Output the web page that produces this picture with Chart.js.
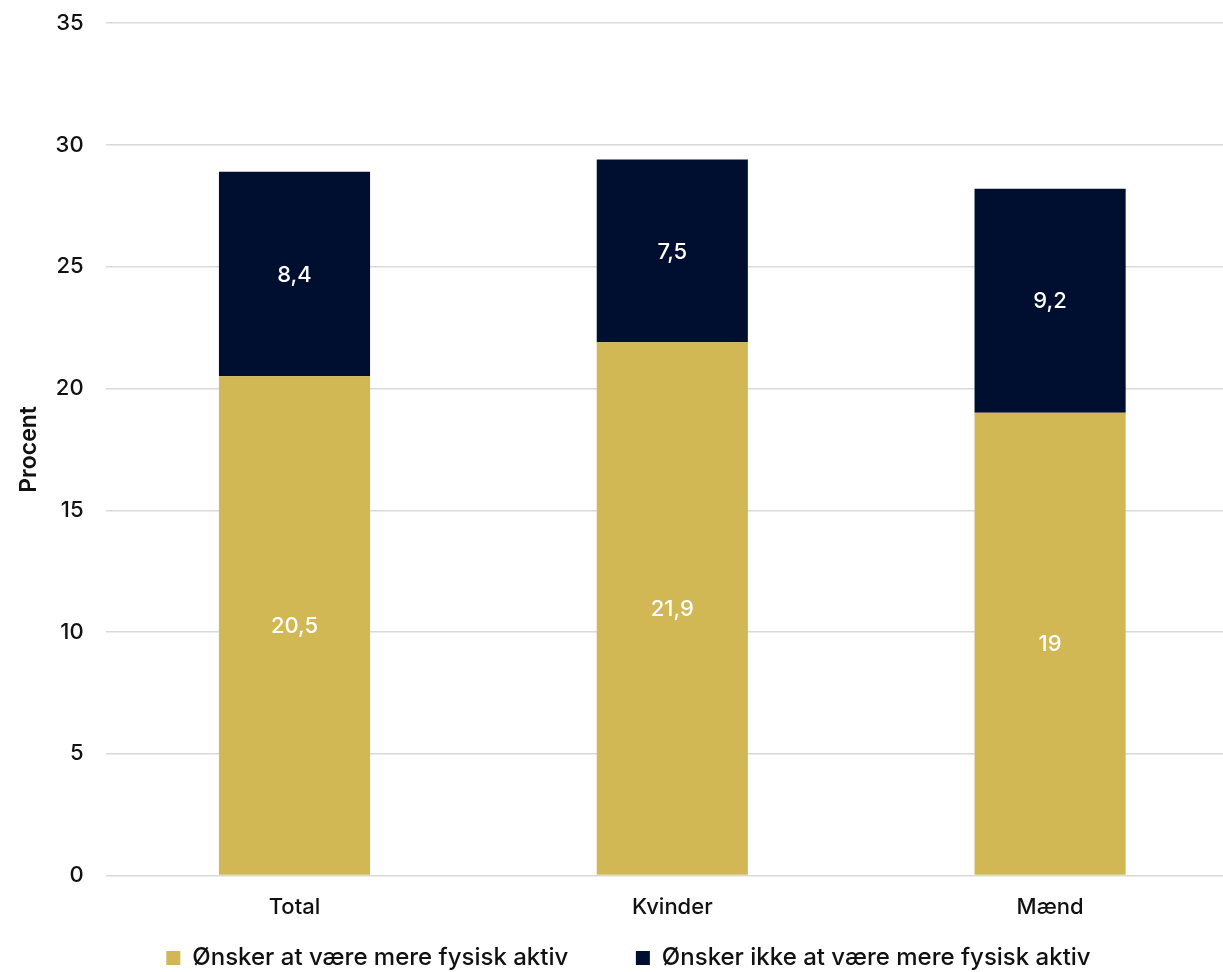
<!DOCTYPE html>
<html>
<head>
<meta charset="utf-8">
<script src="https://cdn.jsdelivr.net/npm/chart.js@4.4.1/dist/chart.umd.min.js"></script>
<style>
  html, body { margin: 0; padding: 0; background: #fff; overflow: hidden; }
  #view { position: relative; width: 1223px; height: 972px; overflow: hidden; }
  #wrap { position: absolute; left: 0; top: -12px; width: 1239px; height: 992px; }
</style>
</head>
<body>
<div id="view"><div id="wrap"><canvas id="c"></canvas></div></div>
<script>
const categories = ["Total", "Kvinder", "Mænd"];
const seriesNames = ["Ønsker at være mere fysisk aktiv", "Ønsker ikke at være mere fysisk aktiv"];
const wantMore = [20.5, 21.9, 19];
const notWantMore = [8.4, 7.5, 9.2];
const yTicks = [0, 5, 10, 15, 20, 25, 30, 35];

const GOLD = "#D2B755";
const NAVY = "#000F2F";
const FONT = "Inter";
const FS = 22;

const fmt = v => String(v).replace(".", ",");

const barLabels = {
  id: "barLabels",
  afterDatasetsDraw(chart) {
    const ctx = chart.ctx;
    ctx.save();
    ctx.fillStyle = "#ffffff";
    ctx.font = "500 " + FS + "px " + FONT;
    ctx.textAlign = "center";
    ctx.textBaseline = "middle";
    chart.data.datasets.forEach((ds, di) => {
      const meta = chart.getDatasetMeta(di);
      meta.data.forEach((bar, i) => {
        const p = bar.getProps(["x", "y", "base"], true);
        ctx.fillText(fmt(ds.data[i]), p.x, (p.y + p.base) / 2 + 1);
      });
    });
    ctx.restore();
  }
};

const legendNudge = {
  id: "legendNudge",
  afterLayout(chart) {
    if (chart.legend) { chart.legend.left += 9; chart.legend.right += 9; }
  }
};

new Chart(document.getElementById("c"), {
  type: "bar",
  data: {
    labels: categories,
    datasets: [
      { label: seriesNames[0], data: wantMore, backgroundColor: GOLD },
      { label: seriesNames[1], data: notWantMore, backgroundColor: NAVY }
    ]
  },
  options: {
    responsive: true,
    maintainAspectRatio: false,
    animation: false,
    layout: { padding: { top: 0, left: 0, right: 0, bottom: 0 } },
    datasets: { bar: { barPercentage: 1, categoryPercentage: 0.4 } },
    plugins: {
      legend: {
        position: "bottom",
        labels: {
          boxWidth: 14, boxHeight: 14, padding: 10,
          color: "#111", font: { family: FONT, size: 24, weight: "500" },
          generateLabels(chart) {
            const items = Chart.defaults.plugins.legend.labels.generateLabels(chart);
            items.forEach((it, i) => {
              it.lineWidth = 0;
              if (i < items.length - 1) it.text = it.text + "\u00a0".repeat(9);
            });
            return items;
          }
        }
      },
      tooltip: { enabled: false }
    },
    scales: {
      x: {
        stacked: true,
        grid: { display: false },
        border: { display: false },
        ticks: { color: "#111", font: { family: FONT, size: FS, weight: "500" }, padding: 11 },
        afterFit: axis => { axis.height += 4; }
      },
      y: {
        stacked: true,
        min: 0, max: 35,
        afterBuildTicks: axis => { axis.ticks = yTicks.map(v => ({ value: v })); },
        grid: { color: "#d9d9d9", lineWidth: 1.5, drawTicks: false },
        border: { display: false },
        ticks: { color: "#111", font: { family: FONT, size: FS, weight: "500" }, padding: 22 },
        title: { display: true, text: "Procent", color: "#111", font: { family: FONT, size: 23, weight: "600" }, padding: { top: 15, bottom: -9 } }
      }
    }
  },
  plugins: [barLabels, legendNudge]
});
</script>
</body>
</html>
